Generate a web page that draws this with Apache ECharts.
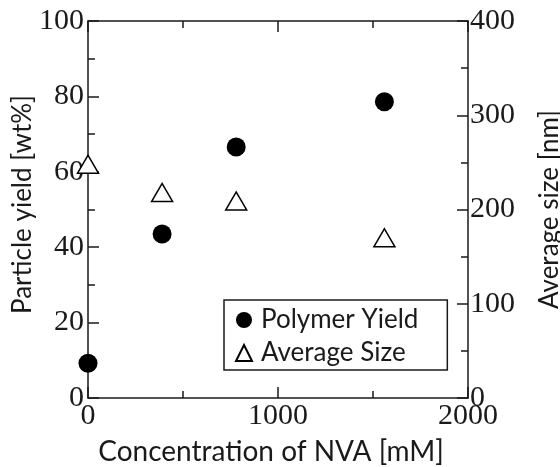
<!DOCTYPE html>
<html>
<head>
<meta charset="utf-8">
<script src="https://cdn.jsdelivr.net/npm/echarts@6/dist/echarts.min.js"></script>
<style>
  html, body { margin: 0; padding: 0; background: #fff; }
  #chart { width: 560px; height: 467px; }
</style>
</head>
<body>
<div id="chart"></div>
<script>
// values
const concentration = [0, 390, 780, 1560]
const polymerYield = [9.2, 43.5, 66.6, 78.6]
const averageSize = [248, 218, 209, 170]

const xTicks = { min: 0, max: 2000, interval: 1000 }
const yieldTicks = { min: 0, max: 100, interval: 20 }
const sizeTicks = { min: 0, max: 400, interval: 100 }

const ink = '#1a1a1a'
const serif = 'Liberation Serif'
const sans = 'Lato'

const axisLine = { show: true, onZero: false, lineStyle: { color: ink, width: 1.5 } }
const tick = { show: true, inside: true, length: 11, lineStyle: { color: ink, width: 1.5 } }
const minor = { show: true, splitNumber: 2, length: 7, lineStyle: { color: ink, width: 1.5 } }
const tickFont = { color: ink, fontFamily: serif, fontSize: 30, formatter: v => String(v) }
const nameFont = { color: ink, fontFamily: sans, fontSize: 26 }

const chart = echarts.init(document.getElementById('chart'))

chart.setOption({
  backgroundColor: '#fff',
  animation: false,
  grid: { left: 88, right: 92, top: 21, bottom: 69, containLabel: false, outerBoundsMode: 'none' },
  xAxis: [
    {
      type: 'value',
      position: 'bottom',
      ...xTicks,
      name: 'Concentration of NVA [mM]',
      nameLocation: 'middle',
      nameGap: 40,
      nameMoveOverlap: false,
      nameTextStyle: { ...nameFont, fontSize: 28, padding: [0, 14, 0, 0] },
      axisLine,
      axisTick: tick,
      minorTick: minor,
      splitLine: { show: false },
      axisLabel: { ...tickFont, margin: 3, hideOverlap: false }
    },
    {
      type: 'value',
      position: 'top',
      ...xTicks,
      axisLine,
      axisTick: tick,
      minorTick: minor,
      splitLine: { show: false },
      axisLabel: { show: false }
    }
  ],
  yAxis: [
    {
      type: 'value',
      position: 'left',
      ...yieldTicks,
      name: 'Particle yield [wt%]',
      nameLocation: 'middle',
      nameRotate: 90,
      nameGap: 52,
      nameMoveOverlap: false,
      nameTextStyle: { ...nameFont, padding: [0, 0, 0, 10] },
      axisLine,
      axisTick: tick,
      minorTick: minor,
      splitLine: { show: false },
      axisLabel: { ...tickFont, margin: 4 }
    },
    {
      type: 'value',
      position: 'right',
      ...sizeTicks,
      name: 'Average size [nm]',
      nameLocation: 'middle',
      nameRotate: 90,
      nameGap: 69,
      nameMoveOverlap: false,
      nameTextStyle: nameFont,
      axisLine,
      axisTick: tick,
      minorTick: minor,
      splitLine: { show: false },
      axisLabel: { ...tickFont, margin: 2 }
    }
  ],
  legend: {
    orient: 'vertical',
    left: 224,
    top: 300,
    padding: [6, 29, 3, 11],
    itemWidth: 16,
    itemHeight: 16,
    itemGap: 5,
    backgroundColor: '#fff',
    borderColor: ink,
    borderWidth: 1.5,
    borderRadius: 0,
    textStyle: { color: ink, fontFamily: sans, fontSize: 26, lineHeight: 28, padding: [0, 0, 0, 4] },
    data: ['Polymer Yield', 'Average Size']
  },
  series: [
    {
      name: 'Polymer Yield',
      type: 'scatter',
      xAxisIndex: 0,
      yAxisIndex: 0,
      symbol: 'circle',
      symbolSize: 19,
      itemStyle: { color: '#000', opacity: 1 },
      data: concentration.map((c, i) => [c, polymerYield[i]]),
      z: 5
    },
    {
      name: 'Average Size',
      type: 'scatter',
      xAxisIndex: 0,
      yAxisIndex: 1,
      symbol: 'triangle',
      symbolSize: [21, 18],
      itemStyle: { color: '#fff', borderColor: '#000', borderWidth: 1.5, opacity: 1 },
      data: concentration.map((c, i) => [c, averageSize[i]]),
      z: 5
    }
  ]
})
</script>
</body>
</html>
